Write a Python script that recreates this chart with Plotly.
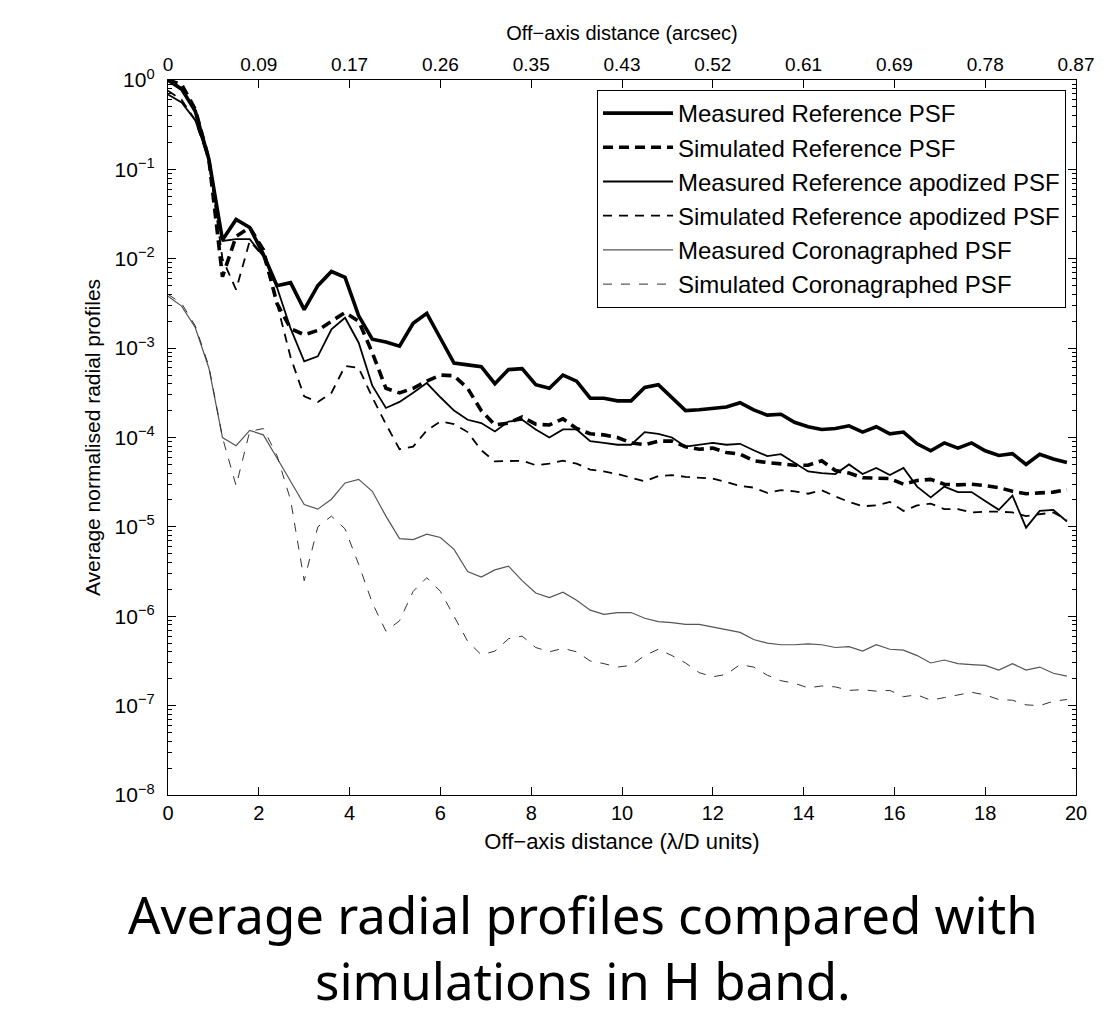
import plotly.graph_objects as go

# Off-axis distance in lambda/D units (sampling of the radial profiles)
x_lod = [0.0, 0.3, 0.6, 0.9, 1.2, 1.5, 1.8, 2.1, 2.4, 2.7,
         3.0, 3.3, 3.6, 3.9, 4.2, 4.5, 4.8, 5.1, 5.4, 5.7,
         6.0, 6.3, 6.6, 6.9, 7.2, 7.5, 7.8, 8.1, 8.4, 8.7,
         9.0, 9.3, 9.6, 9.9, 10.2, 10.5, 10.8, 11.1, 11.4, 11.7,
         12.0, 12.3, 12.6, 12.9, 13.2, 13.5, 13.8, 14.1, 14.4, 14.7,
         15.0, 15.3, 15.6, 15.9, 16.2, 16.5, 16.8, 17.1, 17.4, 17.7,
         18.0, 18.3, 18.6, 18.9, 19.2, 19.5, 19.8]

meas_ref = [1.0, 0.79, 0.45, 0.13, 1.62e-2, 2.75e-2, 2.24e-2, 1.12e-2, 5.0e-3, 5.4e-3,
            2.7e-3, 5.0e-3, 7.2e-3, 6.2e-3, 2.3e-3, 1.26e-3, 1.17e-3, 1.05e-3, 1.9e-3, 2.45e-3,
            1.29e-3, 6.8e-4, 6.5e-4, 6.2e-4, 4.0e-4, 5.75e-4, 5.9e-4, 3.9e-4, 3.55e-4, 5.0e-4,
            4.27e-4, 2.75e-4, 2.75e-4, 2.57e-4, 2.57e-4, 3.63e-4, 3.9e-4, 2.75e-4, 2.0e-4, 2.04e-4,
            2.09e-4, 2.19e-4, 2.45e-4, 2.04e-4, 1.78e-4, 1.82e-4, 1.48e-4, 1.32e-4, 1.23e-4, 1.26e-4,
            1.35e-4, 1.15e-4, 1.32e-4, 1.10e-4, 1.15e-4, 8.5e-5, 7.1e-5, 8.7e-5, 7.6e-5, 8.7e-5,
            7.1e-5, 6.3e-5, 6.6e-5, 5.0e-5, 6.5e-5, 5.75e-5, 5.25e-5]

sim_ref = [1.0, 0.89, 0.47, 0.13, 6.3e-3, 1.78e-2, 2.24e-2, 1.26e-2, 3.16e-3, 1.66e-3,
           1.41e-3, 1.58e-3, 2.0e-3, 2.5e-3, 2.0e-3, 8.9e-4, 3.55e-4, 3.16e-4, 3.55e-4, 4.27e-4,
           5.0e-4, 4.9e-4, 3.55e-4, 2.0e-4, 1.38e-4, 1.45e-4, 1.70e-4, 1.41e-4, 1.38e-4, 1.62e-4,
           1.26e-4, 1.10e-4, 1.07e-4, 1.0e-4, 8.7e-5, 8.3e-5, 9.1e-5, 9.1e-5, 7.9e-5, 7.4e-5,
           7.6e-5, 6.8e-5, 6.5e-5, 5.5e-5, 5.25e-5, 5.1e-5, 4.9e-5, 4.9e-5, 5.5e-5, 4.27e-5,
           4.0e-5, 3.55e-5, 3.47e-5, 3.47e-5, 3.0e-5, 3.3e-5, 3.4e-5, 3.0e-5, 2.95e-5, 3.0e-5,
           2.9e-5, 2.75e-5, 2.5e-5, 2.35e-5, 2.4e-5, 2.45e-5, 2.6e-5]

meas_apod = [0.69, 0.56, 0.355, 0.132, 1.58e-2, 1.66e-2, 1.66e-2, 1.07e-2, 4.8e-3, 1.66e-3,
             7.1e-4, 8.1e-4, 1.62e-3, 2.19e-3, 1.15e-3, 3.8e-4, 2.14e-4, 2.5e-4, 3.16e-4, 4.07e-4,
             2.82e-4, 2.0e-4, 1.58e-4, 1.45e-4, 1.17e-4, 1.51e-4, 1.58e-4, 1.23e-4, 1.0e-4, 1.23e-4,
             1.23e-4, 9.1e-5, 8.7e-5, 8.3e-5, 8.3e-5, 1.15e-4, 1.10e-4, 1.0e-4, 7.9e-5, 8.3e-5,
             8.7e-5, 8.3e-5, 8.5e-5, 7.2e-5, 6.2e-5, 6.5e-5, 5.25e-5, 4.17e-5, 4.0e-5, 3.9e-5,
             5.0e-5, 3.9e-5, 4.57e-5, 3.8e-5, 4.57e-5, 2.82e-5, 2.14e-5, 2.82e-5, 2.45e-5, 2.45e-5,
             1.95e-5, 1.55e-5, 2.24e-5, 9.8e-6, 1.51e-5, 1.55e-5, 1.15e-5]

sim_apod = [0.76, 0.6, 0.355, 0.126, 1.0e-2, 4.5e-3, 1.58e-2, 1.07e-2, 3.16e-3, 7.9e-4,
            2.88e-4, 2.5e-4, 3.16e-4, 6.3e-4, 6.0e-4, 2.82e-4, 1.41e-4, 7.4e-5, 7.9e-5, 1.2e-4,
            1.51e-4, 1.41e-4, 1.15e-4, 7.2e-5, 5.4e-5, 5.4e-5, 5.5e-5, 4.9e-5, 5.1e-5, 5.5e-5,
            5.1e-5, 4.37e-5, 4.17e-5, 3.9e-5, 3.55e-5, 3.24e-5, 3.7e-5, 3.8e-5, 3.63e-5, 3.55e-5,
            3.47e-5, 3.16e-5, 2.88e-5, 2.75e-5, 2.4e-5, 2.57e-5, 2.5e-5, 2.35e-5, 2.57e-5, 2.19e-5,
            1.9e-5, 1.7e-5, 1.74e-5, 1.9e-5, 1.51e-5, 1.74e-5, 1.82e-5, 1.58e-5, 1.58e-5, 1.45e-5,
            1.48e-5, 1.48e-5, 1.45e-5, 1.32e-5, 1.38e-5, 1.45e-5, 1.2e-5]

meas_coro = [3.8e-3, 2.95e-3, 1.7e-3, 6.0e-4, 1.0e-4, 8.1e-5, 1.2e-4, 1.07e-4, 5.9e-5, 3.24e-5,
             1.78e-5, 1.58e-5, 2.04e-5, 3.1e-5, 3.4e-5, 2.5e-5, 1.32e-5, 7.4e-6, 7.2e-6, 8.3e-6,
             7.6e-6, 5.6e-6, 3.16e-6, 2.75e-6, 3.3e-6, 3.63e-6, 2.5e-6, 1.82e-6, 1.62e-6, 1.86e-6,
             1.51e-6, 1.17e-6, 1.05e-6, 1.10e-6, 1.10e-6, 9.5e-7, 8.7e-7, 8.5e-7, 8.1e-7, 8.1e-7,
             7.6e-7, 7.1e-7, 6.6e-7, 5.5e-7, 5.0e-7, 4.8e-7, 4.8e-7, 4.9e-7, 4.8e-7, 4.47e-7,
             4.57e-7, 4.07e-7, 4.8e-7, 4.27e-7, 4.17e-7, 3.63e-7, 3.0e-7, 3.24e-7, 2.95e-7, 2.88e-7,
             2.82e-7, 2.5e-7, 2.95e-7, 2.5e-7, 2.7e-7, 2.3e-7, 2.14e-7]

sim_coro = [4.0e-3, 3.16e-3, 1.78e-3, 6.3e-4, 1.0e-4, 2.88e-5, 1.17e-4, 1.26e-4, 6.3e-5, 2.0e-5,
            2.5e-6, 1.0e-5, 1.32e-5, 9.5e-6, 3.8e-6, 1.41e-6, 6.8e-7, 8.9e-7, 1.9e-6, 2.7e-6,
            1.9e-6, 1.0e-6, 5.25e-7, 3.7e-7, 4.07e-7, 5.6e-7, 6.0e-7, 4.47e-7, 4.0e-7, 4.37e-7,
            4.0e-7, 3.16e-7, 2.95e-7, 2.7e-7, 2.82e-7, 3.63e-7, 4.27e-7, 3.63e-7, 3.0e-7, 2.34e-7,
            2.1e-7, 2.24e-7, 2.88e-7, 2.7e-7, 2.19e-7, 1.9e-7, 1.78e-7, 1.58e-7, 1.66e-7, 1.62e-7,
            1.48e-7, 1.51e-7, 1.45e-7, 1.48e-7, 1.26e-7, 1.32e-7, 1.15e-7, 1.23e-7, 1.32e-7, 1.41e-7,
            1.32e-7, 1.17e-7, 1.15e-7, 1.02e-7, 1.0e-7, 1.12e-7, 1.17e-7]

series_names = ["Measured Reference PSF", "Simulated Reference PSF",
                "Measured Reference apodized PSF", "Simulated Reference apodized PSF",
                "Measured Coronagraphed PSF", "Simulated Coronagraphed PSF"]

bottom_ticks = [0, 2, 4, 6, 8, 10, 12, 14, 16, 18, 20]
top_tick_labels = ["0", "0.09", "0.17", "0.26", "0.35", "0.43", "0.52", "0.61", "0.69", "0.78", "0.87"]
y_tick_vals = [1e-8, 1e-7, 1e-6, 1e-5, 1e-4, 1e-3, 1e-2, 1e-1, 1e0]
y_tick_text = ["10<sup>\u22128</sup>", "10<sup>\u22127</sup>", "10<sup>\u22126</sup>",
               "10<sup>\u22125</sup>", "10<sup>\u22124</sup>", "10<sup>\u22123</sup>",
               "10<sup>\u22122</sup>", "10<sup>\u22121</sup>", "10<sup>0</sup>"]
caption = "Average radial profiles compared with<br>simulations in H band."

FONT = "Liberation Sans, Arial, sans-serif"

styles = [
    dict(color="black", width=3.6, dash="solid"),
    dict(color="black", width=3.6, dash="10px,6px"),
    dict(color="black", width=1.8, dash="solid"),
    dict(color="black", width=1.8, dash="9px,7px"),
    dict(color="#555555", width=1.2, dash="solid"),
    dict(color="#333333", width=1.0, dash="9px,9px"),
]
data = [meas_ref, sim_ref, meas_apod, sim_apod, meas_coro, sim_coro]

fig = go.Figure()
for name, ys, st in zip(series_names, data, styles):
    fig.add_trace(go.Scatter(x=x_lod, y=ys, mode="lines", name=name, line=st,
                             legendgroup=name))

# the top (arcsec) axis carries the same profile so it shares the data range
fig.add_trace(go.Scatter(x=x_lod, y=sim_coro, xaxis="x2", yaxis="y", mode="lines",
                         line=dict(color="rgba(0,0,0,0)", width=0), showlegend=False,
                         hoverinfo="skip"))

axis_common = dict(showline=True, linecolor="black", linewidth=1.3, showgrid=False,
                   zeroline=False, ticks="inside", ticklen=8, tickwidth=1, tickcolor="black")

fig.update_layout(
    width=1109, height=1017,
    margin=dict(l=160, r=41, t=72, b=230),
    paper_bgcolor="white", plot_bgcolor="white",
    font=dict(family=FONT, color="black"),
    xaxis=dict(range=[0, 20], tickmode="array", tickvals=bottom_ticks, mirror=True,
               tickfont=dict(family=FONT, size=20, color="black"),
               title=dict(text="Off\u2212axis distance (\u03bb/D units)",
                          font=dict(family=FONT, size=22), standoff=10),
               **axis_common),
    xaxis2=dict(range=[0, 20], overlaying="x", side="top", anchor="y",
                tickmode="array", tickvals=bottom_ticks, ticktext=top_tick_labels,
                tickfont=dict(family=FONT, size=19, color="black"),
                title=dict(text="Off\u2212axis distance (arcsec)",
                           font=dict(family=FONT, size=20), standoff=8),
                **axis_common),
    yaxis=dict(type="log", range=[-8, 0], tickmode="array", tickvals=y_tick_vals,
               ticktext=y_tick_text, mirror="ticks", ticklabelstandoff=8,
               tickfont=dict(family=FONT, size=21, color="black"),
               minor=dict(ticks="inside", ticklen=4, tickwidth=1, tickcolor="black",
                          tickmode="linear", dtick="D1", showgrid=False),
               title=dict(text="Average normalised radial profiles",
                          font=dict(family=FONT, size=21), standoff=8),
               **axis_common),
    legend=dict(x=0.989, y=0.986, xanchor="right", yanchor="top",
                font=dict(family=FONT, size=24, color="black"),
                bgcolor="white", bordercolor="black", borderwidth=1,
                tracegroupgap=0, itemwidth=70),
    showlegend=True,
)

CAP_FONT = "Noto Sans, Open Sans, sans-serif"
fig.add_annotation(text=caption, xref="paper", yref="paper",
                   x=0.457, y=-0.212, xanchor="center", yanchor="middle", showarrow=False,
                   align="center", font=dict(family=CAP_FONT, size=51, color="black"))

fig.write_html("out.html")
